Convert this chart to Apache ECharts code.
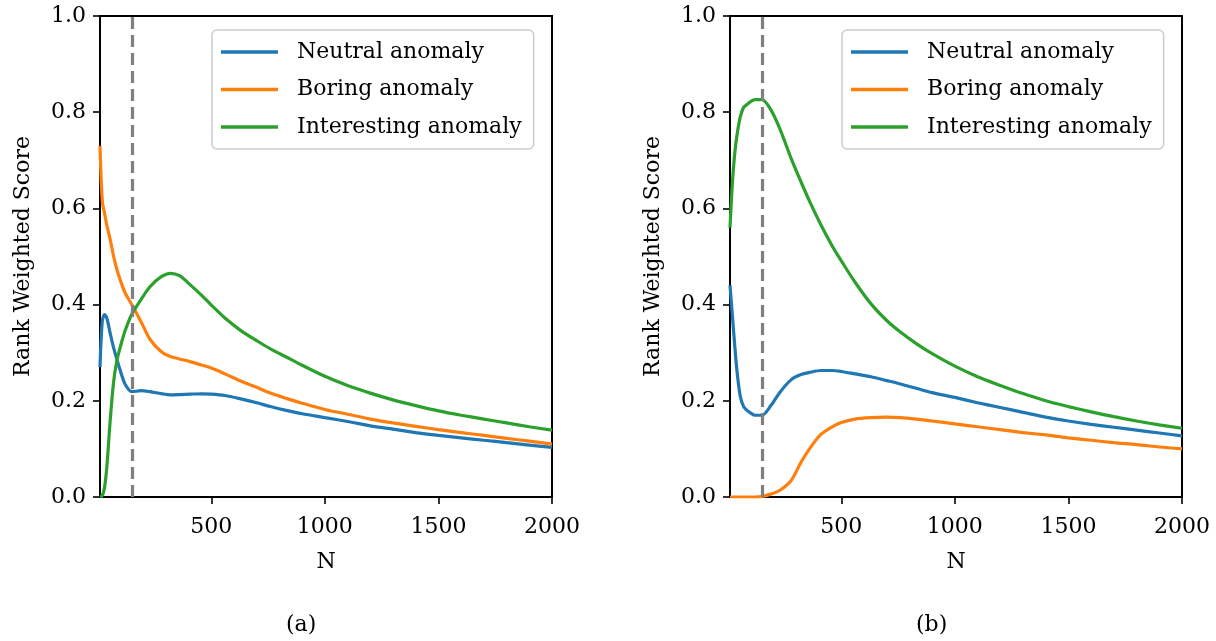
<!DOCTYPE html>
<html>
<head>
<meta charset="utf-8">
<script src="https://cdn.jsdelivr.net/npm/echarts@6/dist/echarts.min.js"></script>
<style>
html,body{margin:0;padding:0;background:#fff;}
#chart{width:1216px;height:641px;}
</style>
</head>
<body>
<div id="chart"></div>
<script>
// ---- data ----
const seriesNames = ['Neutral anomaly', 'Boring anomaly', 'Interesting anomaly'];
const nValues = [10, 20, 30, 40, 55, 70, 85, 100, 120, 150, 190, 230, 280, 320, 360, 410, 460, 500, 560, 630, 700, 760, 830, 900, 1000, 1100, 1200, 1300, 1400, 1500, 1600, 1700, 1800, 1900, 2000];

const neutralA = [0.27, 0.365, 0.379, 0.372, 0.34, 0.31, 0.285, 0.262, 0.235, 0.219, 0.221, 0.219, 0.215, 0.2125, 0.213, 0.214, 0.2146, 0.214, 0.211, 0.204, 0.196, 0.188, 0.18, 0.173, 0.165, 0.157, 0.148, 0.141, 0.134, 0.128, 0.123, 0.118, 0.113, 0.108, 0.103];
const boringA = [0.73, 0.615, 0.59, 0.565, 0.535, 0.5, 0.472, 0.45, 0.425, 0.40, 0.365, 0.328, 0.302, 0.292, 0.287, 0.281, 0.274, 0.268, 0.256, 0.241, 0.228, 0.216, 0.205, 0.195, 0.182, 0.172, 0.162, 0.154, 0.147, 0.14, 0.134, 0.128, 0.122, 0.116, 0.11];
const interestingA = [0.0, 0.003, 0.02, 0.062, 0.16, 0.24, 0.285, 0.313, 0.345, 0.38, 0.41, 0.437, 0.458, 0.465, 0.46, 0.44, 0.418, 0.399, 0.372, 0.346, 0.325, 0.308, 0.291, 0.274, 0.251, 0.232, 0.216, 0.202, 0.19, 0.179, 0.17, 0.162, 0.154, 0.146, 0.139];

const neutralB = [0.44, 0.38, 0.32, 0.265, 0.21, 0.188, 0.18, 0.175, 0.17, 0.17, 0.19, 0.218, 0.244, 0.254, 0.259, 0.263, 0.263, 0.261, 0.256, 0.25, 0.242, 0.235, 0.226, 0.217, 0.207, 0.196, 0.186, 0.176, 0.166, 0.158, 0.151, 0.145, 0.139, 0.133, 0.127];
const boringB = [0, 0, 0, 0, 0, 0, 0, 0, 0, 0.001, 0.006, 0.014, 0.035, 0.07, 0.1, 0.13, 0.146, 0.155, 0.162, 0.165, 0.166, 0.165, 0.162, 0.158, 0.152, 0.146, 0.14, 0.134, 0.129, 0.123, 0.118, 0.113, 0.109, 0.104, 0.1];
const interestingB = [0.56, 0.65, 0.71, 0.75, 0.79, 0.81, 0.816, 0.822, 0.826, 0.826, 0.805, 0.765, 0.703, 0.658, 0.615, 0.566, 0.522, 0.491, 0.447, 0.402, 0.367, 0.343, 0.319, 0.298, 0.272, 0.25, 0.232, 0.215, 0.2, 0.188, 0.177, 0.167, 0.158, 0.15, 0.143];

const thresholdN = 150;
const xTickValues = [500, 1000, 1500, 2000];
const panelLabels = ['(a)', '(b)'];

// ---- chart ----
const FONT = 'DejaVu Serif';
const colors = ['#1f77b4', '#ff7f0e', '#2ca02c'];
const chart = echarts.init(document.getElementById('chart'), null, {renderer: 'canvas'});

function pairs(ys) { return nValues.map((n, i) => [n, ys[i]]); }

const grids = [
  {left: 100, top: 16, width: 452, height: 481},
  {left: 730, top: 16, width: 452, height: 481}
];

function xAxis(gi) {
  return {
    type: 'value', gridIndex: gi, min: 10, max: 2000,
    name: 'N', nameLocation: 'middle', nameGap: 54,
    nameTextStyle: {fontFamily: FONT, fontSize: 22, color: '#000'},
    axisLine: {show: true, onZero: false, lineStyle: {color: '#000', width: 2}},
    axisTick: {show: true, length: 7, lineStyle: {color: '#000', width: 1.6}, customValues: xTickValues},
    axisLabel: {fontFamily: FONT, fontSize: 22, color: '#000', margin: 19, customValues: xTickValues, formatter: v => String(v)},
    splitLine: {show: false}
  };
}
function yAxis(gi) {
  return {
    type: 'value', gridIndex: gi, min: 0, max: 1, interval: 0.2,
    name: 'Rank Weighted Score', nameLocation: 'middle', nameGap: 66,
    nameTextStyle: {fontFamily: FONT, fontSize: 22, color: '#000'},
    axisLine: {show: true, lineStyle: {color: '#000', width: 2}},
    axisTick: {show: true, length: 7, lineStyle: {color: '#000', width: 1.6}},
    axisLabel: {fontFamily: FONT, fontSize: 22, color: '#000', margin: 14, formatter: v => v.toFixed(1)},
    splitLine: {show: false}
  };
}

function lineSeries(name, ys, gi, ci, withMark) {
  const s = {
    name: name, type: 'line', xAxisIndex: gi, yAxisIndex: gi,
    data: pairs(ys), showSymbol: false, symbol: 'none', smooth: 0.3,
    lineStyle: {color: colors[ci], width: 3.2}, itemStyle: {color: colors[ci]},
    z: 3, animation: false
  };
  if (withMark) {
    s.markLine = {
      silent: true, symbol: 'none', label: {show: false},
      lineStyle: {color: '#808080', width: 3.2, type: [12, 6]},
      data: [{xAxis: thresholdN}], animation: false
    };
  }
  return s;
}

function legend(left) {
  return {
    left: left, top: 30, orient: 'vertical',
    data: seriesNames.map(n => ({name: n, icon: 'rect'})),
    itemWidth: 57, itemHeight: 3.5, itemGap: 15.5,
    padding: [11, 12, 11, 9],
    borderColor: '#cccccc', borderWidth: 1.5, borderRadius: 5,
    backgroundColor: 'rgba(255,255,255,0.8)',
    textStyle: {fontFamily: FONT, fontSize: 22, color: '#000', padding: [0, 0, 0, 14]},
    selectedMode: false
  };
}

const option = {
  backgroundColor: '#fff',
  animation: false,
  grid: grids.map(g => Object.assign({show: true, borderColor: '#000', borderWidth: 2, backgroundColor: 'transparent', containLabel: false}, g)),
  xAxis: [xAxis(0), xAxis(1)],
  yAxis: [yAxis(0), yAxis(1)],
  legend: [legend(212), legend(842)],
  series: [
    lineSeries(seriesNames[0], neutralA, 0, 0, true),
    lineSeries(seriesNames[1], boringA, 0, 1, false),
    lineSeries(seriesNames[2], interestingA, 0, 2, false),
    lineSeries(seriesNames[0], neutralB, 1, 0, true),
    lineSeries(seriesNames[1], boringB, 1, 1, false),
    lineSeries(seriesNames[2], interestingB, 1, 2, false)
  ],
  graphic: [
    {type: 'text', left: 286, top: 614, style: {text: panelLabels[0], font: '22px "DejaVu Serif"', fill: '#000'}},
    {type: 'text', left: 916, top: 614, style: {text: panelLabels[1], font: '22px "DejaVu Serif"', fill: '#000'}}
  ]
};
chart.setOption(option);
</script>
</body>
</html>
